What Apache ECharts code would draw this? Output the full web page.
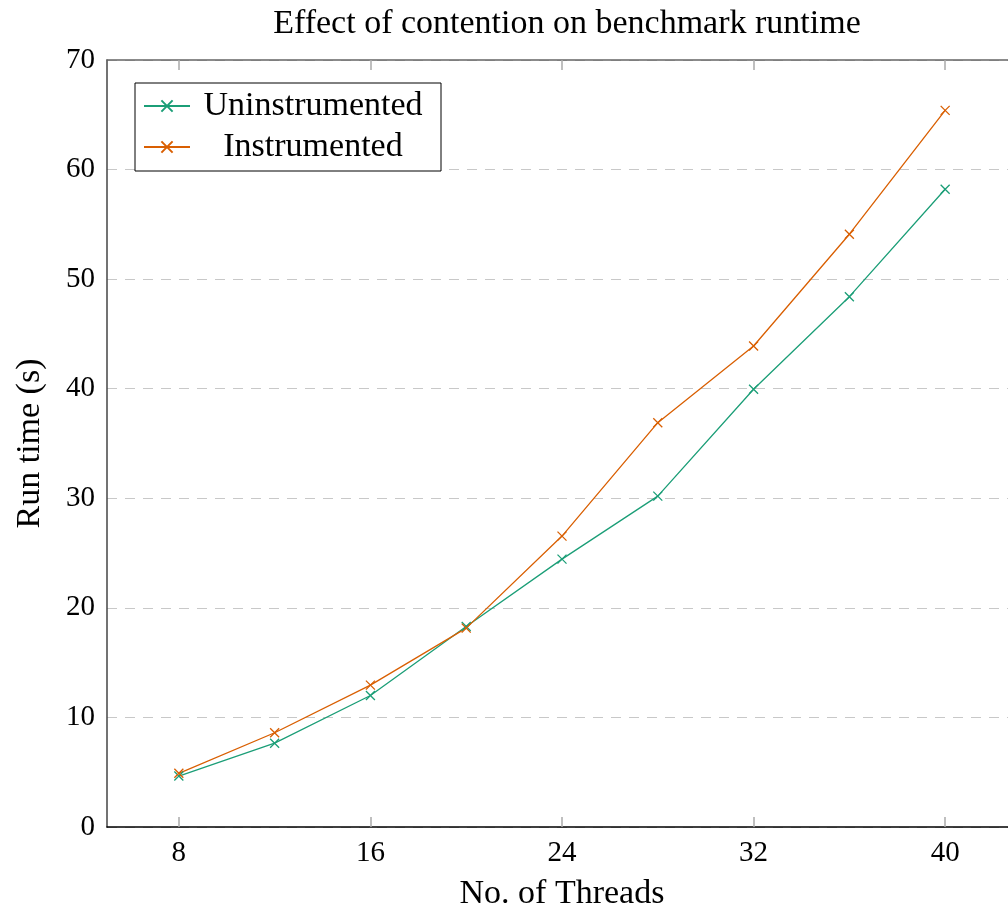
<!DOCTYPE html>
<html>
<head>
<meta charset="utf-8">
<title>Effect of contention on benchmark runtime</title>
<script src="https://cdn.jsdelivr.net/npm/echarts@6/dist/echarts.min.js"></script>
<style>
  html,body{margin:0;padding:0;background:#fff;}
  #main{width:1008px;height:911px;}
</style>
</head>
<body>
<div id="main"></div>
<script>
// thread counts on the x axis
var threads = [8, 12, 16, 20, 24, 28, 32, 36, 40];
// run time in seconds
var uninstrumented = [4.65, 7.65, 12.0, 18.3, 24.45, 30.2, 39.95, 48.4, 58.2];
var instrumented = [4.9, 8.6, 12.95, 18.15, 26.55, 36.9, 43.9, 54.1, 65.4];
var xTicks = [8, 16, 24, 32, 40];
var seriesNames = ['Uninstrumented', 'Instrumented'];

var fontFam = 'Liberation Serif';
var green = '#1b9e77';
var orange = '#d95f02';
var cross = 'path://M0,0L10,10M10,0L0,10';

function pairs(xs, ys){
  var out = [];
  for(var i=0;i<xs.length;i++){
    out.push([xs[i], ys[i]]);
  }
  return out;
}

function makeSeries(name, ys, color){
  return {
    name: name,
    type: 'line',
    data: pairs(threads, ys),
    symbol: cross,
    symbolSize: 9,
    showSymbol: true,
    lineStyle: {color: color, width: 1.3},
    itemStyle: {color: color, borderColor: color, borderWidth: 1.3},
    emphasis: {disabled: true},
    animation: false
  };
}

var myChart = echarts.init(document.getElementById('main'), null, {renderer: 'canvas'});
var option = {
  backgroundColor: '#fff',
  animation: false,
  title: {
    text: 'Effect of contention on benchmark runtime',
    left: 562,
    textAlign: 'center',
    top: 2,
    textStyle: {fontFamily: fontFam, fontSize: 34, fontWeight: 'normal', color: '#000'}
  },
  legend: {
    data: seriesNames,
    orient: 'vertical',
    left: 135,
    top: 83,
    padding: [6, 10, 7, 8],
    itemGap: 7,
    itemWidth: 46,
    itemHeight: 14,
    borderColor: '#000',
    borderWidth: 1,
    backgroundColor: '#fff',
    formatter: function(name){
      return '{c|' + name + '}';
    },
    textStyle: {
      fontFamily: fontFam,
      fontSize: 34,
      color: '#000',
      rich: {
        c: {fontFamily: fontFam, fontSize: 34, color: '#000', width: 236, align: 'center', lineHeight: 38}
      }
    }
  },
  grid: {
    left: 107,
    right: -9,
    top: 60,
    bottom: 84,
    containLabel: false,
    outerBoundsMode: 'none'
  },
  xAxis: [{
    type: 'value',
    min: 5,
    max: 43,
    name: 'No. of Threads',
    nameLocation: 'middle',
    nameGap: 50,
    nameTextStyle: {fontFamily: fontFam, fontSize: 34, color: '#000'},
    axisLine: {lineStyle: {color: '#000', width: 1.5}},
    axisTick: {inside: true, length: 10, customValues: xTicks, lineStyle: {color: '#aaa', width: 1.5}},
    axisLabel: {customValues: xTicks, fontFamily: fontFam, fontSize: 29, color: '#000', margin: 12},
    splitLine: {show: false}
  }, {
    type: 'value',
    position: 'top',
    min: 5,
    max: 43,
    axisLine: {show: true, lineStyle: {color: '#666', width: 1.5}},
    axisTick: {inside: true, length: 10, customValues: xTicks, lineStyle: {color: '#aaa', width: 1.5}},
    axisLabel: {show: false},
    splitLine: {show: false}
  }],
  yAxis: {
    type: 'value',
    min: 0,
    max: 70,
    interval: 10,
    name: 'Run time (s)',
    nameLocation: 'middle',
    nameGap: 60,
    nameTextStyle: {fontFamily: fontFam, fontSize: 34, color: '#000'},
    axisLine: {show: true, lineStyle: {color: '#444', width: 1.5}},
    axisTick: {show: false},
    axisLabel: {fontFamily: fontFam, fontSize: 29, color: '#000', margin: 12},
    splitLine: {show: true, lineStyle: {color: '#c8c8c8', type: [10, 8], width: 1.2}}
  },
  series: [
    makeSeries(seriesNames[0], uninstrumented, green),
    makeSeries(seriesNames[1], instrumented, orange)
  ]
};
myChart.setOption(option);
</script>
</body>
</html>
